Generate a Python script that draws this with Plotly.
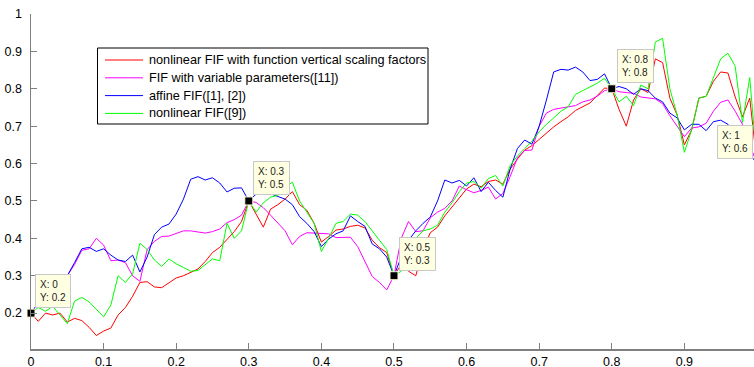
import plotly.graph_objects as go

# x positions: 0.00 .. 1.00 step 0.01 (101 samples)
x_vals = [i / 100 for i in range(101)]

red_vals = [
    0.200, 0.178, 0.200, 0.195, 0.200, 0.176, 0.186, 0.180, 0.162, 0.140,
    0.152, 0.160, 0.195, 0.215, 0.245, 0.282, 0.284, 0.270, 0.268, 0.282,
    0.294, 0.300, 0.308, 0.318, 0.338, 0.362, 0.376, 0.398, 0.418, 0.445,
    0.500, 0.465, 0.430, 0.478, 0.490, 0.505, 0.525, 0.490, 0.475, 0.440,
    0.390, 0.405, 0.422, 0.425, 0.432, 0.435, 0.428, 0.395, 0.375, 0.362,
    0.300, 0.330, 0.312, 0.300, 0.370, 0.415, 0.430, 0.460, 0.485, 0.510,
    0.532, 0.545, 0.538, 0.552, 0.556, 0.545, 0.585, 0.612, 0.636, 0.648,
    0.665, 0.680, 0.698, 0.712, 0.725, 0.742, 0.752, 0.762, 0.782, 0.802,
    0.800, 0.745, 0.700, 0.770, 0.800, 0.790, 0.880, 0.870, 0.775, 0.730,
    0.650, 0.690, 0.775, 0.780, 0.820, 0.845, 0.842, 0.778, 0.725, 0.775,
    0.600,
]

magenta_vals = [
    0.200, 0.225, 0.245, 0.260, 0.275, 0.300, 0.330, 0.368, 0.372, 0.400,
    0.382, 0.340, 0.342, 0.335, 0.300, 0.285, 0.370, 0.392, 0.405, 0.406,
    0.414, 0.420, 0.420, 0.416, 0.414, 0.418, 0.425, 0.442, 0.450, 0.462,
    0.500, 0.496, 0.482, 0.462, 0.440, 0.420, 0.383, 0.405, 0.415, 0.414,
    0.414, 0.412, 0.402, 0.402, 0.403, 0.378, 0.340, 0.298, 0.282, 0.262,
    0.300, 0.400, 0.445, 0.418, 0.420, 0.455, 0.470, 0.480, 0.500, 0.540,
    0.530, 0.522, 0.528, 0.537, 0.505, 0.520, 0.565, 0.615, 0.635, 0.636,
    0.700, 0.735, 0.745, 0.748, 0.752, 0.755, 0.765, 0.770, 0.780, 0.795,
    0.800, 0.792, 0.790, 0.788, 0.778, 0.776, 0.773, 0.760, 0.728, 0.700,
    0.672, 0.695, 0.698, 0.708, 0.740, 0.764, 0.770, 0.740, 0.705, 0.650,
    0.600,
]

blue_vals = [
    0.200, 0.228, 0.245, 0.258, 0.275, 0.300, 0.335, 0.372, 0.376, 0.365,
    0.372, 0.355, 0.342, 0.338, 0.355, 0.310, 0.350, 0.410, 0.430, 0.438,
    0.465, 0.505, 0.558, 0.565, 0.556, 0.562, 0.548, 0.524, 0.534, 0.535,
    0.500, 0.518, 0.526, 0.520, 0.512, 0.505, 0.490, 0.458, 0.440, 0.418,
    0.378, 0.398, 0.412, 0.420, 0.460, 0.445, 0.432, 0.385, 0.372, 0.350,
    0.300, 0.350, 0.395, 0.420, 0.440, 0.457, 0.500, 0.556, 0.548, 0.555,
    0.540, 0.562, 0.525, 0.550, 0.528, 0.510, 0.585, 0.640, 0.663, 0.652,
    0.700, 0.770, 0.845, 0.852, 0.850, 0.858, 0.845, 0.822, 0.825, 0.840,
    0.800, 0.806, 0.800, 0.785, 0.800, 0.795, 0.775, 0.765, 0.735, 0.722,
    0.690, 0.705, 0.705, 0.688, 0.712, 0.716, 0.705, 0.675, 0.650, 0.625,
    0.600,
]

green_vals = [
    0.200, 0.215, 0.205, 0.218, 0.195, 0.172, 0.232, 0.242, 0.230, 0.210,
    0.190, 0.222, 0.300, 0.282, 0.305, 0.387, 0.370, 0.342, 0.325, 0.345,
    0.332, 0.322, 0.312, 0.314, 0.330, 0.345, 0.340, 0.440, 0.400, 0.420,
    0.500, 0.470, 0.495, 0.510, 0.515, 0.537, 0.550, 0.500, 0.470, 0.440,
    0.365, 0.400, 0.440, 0.445, 0.465, 0.462, 0.445, 0.420, 0.395, 0.370,
    0.300, 0.312, 0.338, 0.400, 0.420, 0.425, 0.435, 0.470, 0.495, 0.525,
    0.548, 0.552, 0.534, 0.560, 0.568, 0.540, 0.595, 0.620, 0.640, 0.660,
    0.685, 0.705, 0.722, 0.740, 0.752, 0.785, 0.795, 0.804, 0.815, 0.828,
    0.800, 0.765, 0.780, 0.755, 0.810, 0.800, 0.925, 0.935, 0.800, 0.730,
    0.630, 0.690, 0.775, 0.780, 0.830, 0.880, 0.895, 0.860, 0.710, 0.830,
    0.600,
]

series_names = [
    "nonlinear FIF with function vertical scaling factors",
    "FIF with variable parameters([11])",
    "affine FIF([1], [2])",
    "nonlinear FIF([9])",
]
series_colors = ["#ff0000", "#ff00ff", "#0000ff", "#00ff00"]

# interpolation (data tip) points
tip_x = [0, 0.3, 0.5, 0.8, 1.0]
tip_y = [0.2, 0.5, 0.3, 0.8, 0.6]

FONT = "Liberation Sans, Arial, sans-serif"
AXIS_GRAY = "#7f7f7f"

# figure / plot-area geometry in pixels
W, H = 754, 367
PL, PR, PT, PB = 31, 754, 14, 349


def px_x(p):
    return (p - PL) / (PR - PL)


def px_y(p):
    return (PB - p) / (PB - PT)


fig = go.Figure()
for name, color, vals in zip(series_names, series_colors,
                             [red_vals, magenta_vals, blue_vals, green_vals]):
    fig.add_trace(go.Scatter(x=x_vals, y=vals, mode="lines", name=name,
                             showlegend=False, hoverinfo="skip",
                             line=dict(color=color, width=1)))

fig.add_trace(go.Scatter(
    x=tip_x, y=tip_y, mode="markers", showlegend=False, cliponaxis=False,
    hoverinfo="skip",
    marker=dict(symbol="square", size=8, color="black",
                line=dict(color="#ffffd8", width=1)),
))

# label placement styles for each data tip
tip_styles = [
    dict(xanchor="left", xshift=4, yshift=5),
    dict(xanchor="left", xshift=4, yshift=6),
    dict(xanchor="left", xshift=5, yshift=5),
    dict(xanchor="left", xshift=5, yshift=6),
    dict(xanchor="right", xshift=-1, yshift=5),
]
for tx, ty, st in zip(tip_x, tip_y, tip_styles):
    ann = dict(
        text=f"X: {tx:g}<br>Y: {ty:g}", showarrow=False, align="left",
        y=ty, yref="y", yanchor="bottom",
        font=dict(family=FONT, size=10, color="#222222"),
        bgcolor="#ffffe1", bordercolor="#c8c8c8", borderwidth=1, borderpad=4,
        **st,
    )
    if tx >= 1.0:
        ann.update(x=1.0, xref="paper")
    else:
        ann.update(x=tx, xref="x")
    fig.add_annotation(**ann)

# legend box drawn by hand (MATLAB style)
LEG_L, LEG_R, LEG_T, LEG_B = 97.5, 428, 48, 124
LEG_ROW0, LEG_STEP = 60, 17.8
fig.add_shape(type="rect", xref="paper", yref="paper",
              x0=px_x(LEG_L), x1=px_x(LEG_R), y0=px_y(LEG_B), y1=px_y(LEG_T),
              line=dict(color="black", width=1), fillcolor="white",
              layer="above")
for k, (name, color) in enumerate(zip(series_names, series_colors)):
    ry = px_y(LEG_ROW0 + k * LEG_STEP)
    fig.add_shape(type="line", xref="paper", yref="paper",
                  x0=px_x(105), x1=px_x(143), y0=ry, y1=ry,
                  line=dict(color=color, width=1), layer="above")
    fig.add_annotation(text=name, xref="paper", yref="paper",
                       x=px_x(147), y=ry, xanchor="left", yanchor="middle",
                       showarrow=False,
                       font=dict(family=FONT, size=12.7, color="#000000"))

fig.update_layout(
    width=W, height=H,
    margin=dict(l=PL, r=W - PR, t=PT, b=H - PB, pad=0),
    paper_bgcolor="white", plot_bgcolor="white",
    font=dict(family=FONT, size=13, color="#000000"),
    showlegend=False, hovermode=False,
)
fig.update_xaxes(
    range=[0, 0.9959], tick0=0, dtick=0.1, automargin=False,
    showline=True, linecolor=AXIS_GRAY, linewidth=1.5,
    ticks="inside", ticklen=6, tickwidth=1, tickcolor=AXIS_GRAY,
    showgrid=False, zeroline=False, ticklabelstandoff=0,
    tickfont=dict(family=FONT, size=12.5, color="#000000"),
)
fig.update_yaxes(
    range=[0.104, 1.0], tick0=0, dtick=0.1, automargin=False,
    showline=True, linecolor=AXIS_GRAY, linewidth=1.5,
    ticks="inside", ticklen=6, tickwidth=1, tickcolor=AXIS_GRAY,
    showgrid=False, zeroline=False, ticklabelstandoff=5,
    tickfont=dict(family=FONT, size=12.5, color="#000000"),
)

fig.write_html("out.html",
               config={"displayModeBar": False, "staticPlot": True},
               post_script="document.body.style.margin='0';"
                           "document.body.style.overflow='hidden';")
